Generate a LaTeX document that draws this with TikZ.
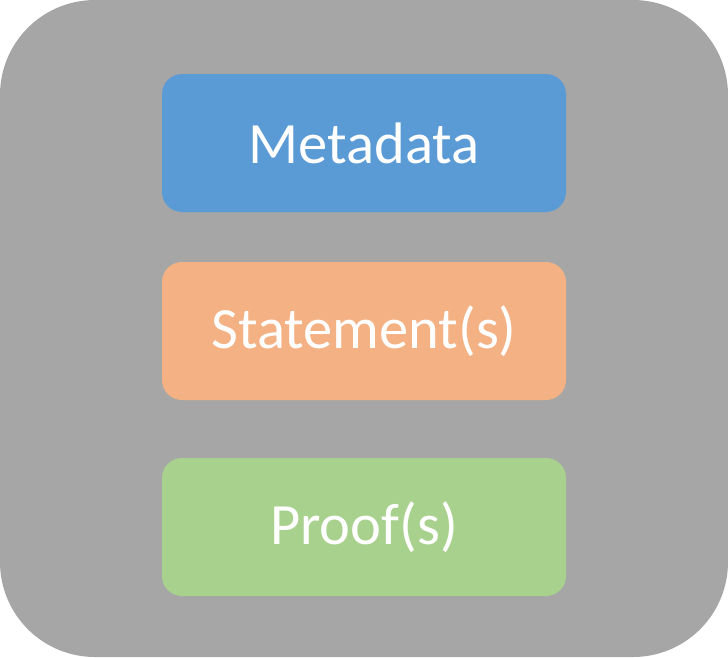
\documentclass[tikz,border=0pt]{standalone}
\usepackage{fontspec}
\setmainfont{Carlito}
\usetikzlibrary{positioning}
\definecolor{framegray}{RGB}{166, 166, 166}
\definecolor{partblue}{RGB}{91, 155, 213}
\definecolor{partorange}{RGB}{244, 177, 131}
\definecolor{partgreen}{RGB}{169, 209, 142}

\begin{document}
\begin{tikzpicture}[x=1pt, y=1pt,
  part/.style={rectangle, rounded corners=20pt, minimum width=404pt, minimum height=138pt, text=white, font=\fontsize{58.5}{62}\selectfont}]
% Outer frame
\fill[framegray, rounded corners=95pt] (0,0) rectangle (728,-657);
\useasboundingbox (0,0) rectangle (728,-657);

% Parts
\node[part, fill=partblue] (metadata) at (364,-143) {Metadata};
\node[part, fill=partorange] (statement) at (364,-331) {Statement(s)};
\node[part, fill=partgreen] (proof) at (364,-527) {Proof(s)};
\end{tikzpicture}
\end{document}
